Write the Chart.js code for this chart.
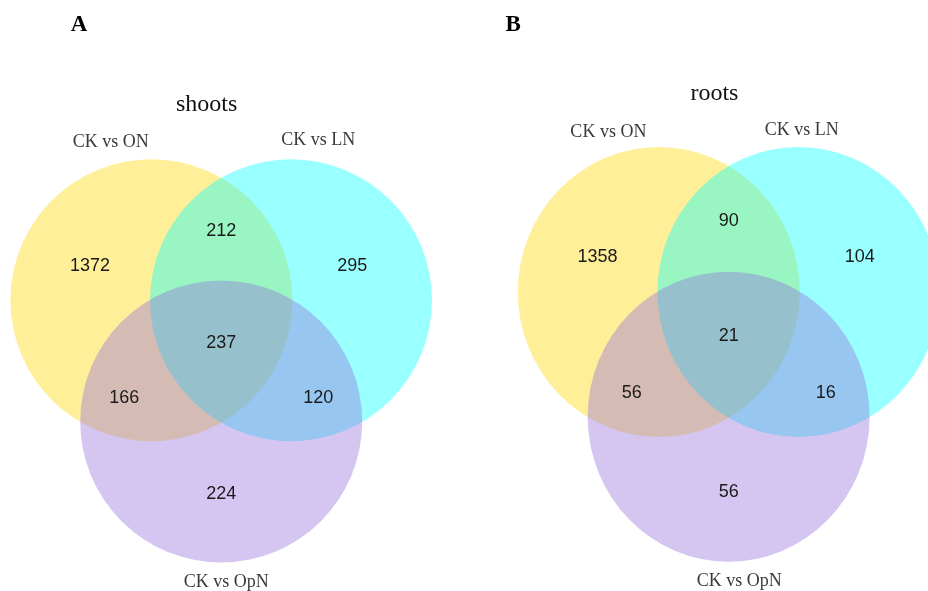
<!DOCTYPE html>
<html>
<head>
<meta charset="utf-8">
<script src="https://cdn.jsdelivr.net/npm/chart.js@4/dist/chart.umd.min.js"></script>
<style>
  html, body { margin: 0; padding: 0; background: #fff; }
  #wrap { position: relative; width: 928px; height: 591px; overflow: hidden; }
  canvas { position: absolute; top: 0; }
  #cA { left: 0; }
  #cB { left: 464px; }
</style>
</head>
<body>
<div id="wrap">
  <canvas id="cA" width="464" height="591"></canvas>
  <canvas id="cB" width="464" height="591"></canvas>
</div>
<script>
// ---- data ----
const setNames = ['CK vs ON', 'CK vs LN', 'CK vs OpN'];
const regionKeys = ['ON only', 'ON & LN', 'LN only', 'ON & LN & OpN', 'ON & OpN', 'LN & OpN', 'OpN only'];
const shootsCounts = [1372, 212, 295, 237, 166, 120, 224];
const rootsCounts = [1358, 90, 104, 21, 56, 16, 56];
const panelLetters = ['A', 'B'];
const panelTitles = ['shoots', 'roots'];

// ---- layout (Venn units, circle radius = 1) ----
const circleCenters = [[-0.495, 0], [0.495, 0], [0, -0.86]];
const regionAnchors = [[-0.93, 0.25], [0, 0.5], [0.93, 0.25], [0, -0.295], [-0.688, -0.685], [0.688, -0.685], [0, -1.366]];
const circleColors = ['rgba(255,215,0,0.4)', 'rgba(0,255,255,0.4)', 'rgba(147,112,219,0.4)'];

const panels = [
  {
    canvas: 'cA', letter: panelLetters[0], title: panelTitles[0], counts: shootsCounts,
    x: [-1.569, 1.722], y: [-2.062, 2.130],
    letterPos: [-1.009, 1.912], titlePos: [-0.103, 1.343],
    namePos: [[-0.783, 1.089], [0.688, 1.099], [0.035, -2.031]]
  },
  {
    canvas: 'cB', letter: panelLetters[1], title: panelTitles[1], counts: rootsCounts,
    x: [-1.877, 1.414], y: [-2.062, 2.014],
    letterPos: [-1.529, 1.802], titlePos: [-0.101, 1.324],
    namePos: [[-0.853, 1.071], [0.518, 1.083], [0.075, -2.028]]
  }
];

const vennPlugin = {
  id: 'venn',
  beforeDatasetsDraw(chart) {
    const { ctx, scales: { x, y } } = chart;
    const rx = Math.abs(x.getPixelForValue(1) - x.getPixelForValue(0));
    const ry = Math.abs(y.getPixelForValue(1) - y.getPixelForValue(0));
    const meta = chart.getDatasetMeta(0);
    ctx.save();
    meta.data.forEach((pt, i) => {
      ctx.beginPath();
      ctx.ellipse(pt.x, pt.y, rx, ry, 0, 0, Math.PI * 2);
      ctx.fillStyle = circleColors[i];
      ctx.fill();
    });
    ctx.restore();
  },
  afterDatasetsDraw(chart) {
    const { ctx, scales: { x, y } } = chart;
    const p = chart.options.plugins.venn;
    ctx.save();
    ctx.textAlign = 'center';
    ctx.textBaseline = 'alphabetic';
    // counts
    const meta = chart.getDatasetMeta(1);
    ctx.font = '18px "Liberation Sans", Arial, sans-serif';
    ctx.fillStyle = '#1a1a1a';
    meta.data.forEach((pt, i) => {
      ctx.fillText(String(p.counts[i]), pt.x, pt.y + 0.358 * 18);
    });
    // set names
    ctx.font = '18px "Liberation Serif", "Times New Roman", serif';
    ctx.fillStyle = '#3a3a3a';
    setNames.forEach((n, i) => {
      ctx.fillText(n, x.getPixelForValue(p.namePos[i][0]), y.getPixelForValue(p.namePos[i][1]));
    });
    // title
    ctx.font = '24px "Liberation Serif", "Times New Roman", serif';
    ctx.fillStyle = '#111';
    ctx.fillText(p.title, x.getPixelForValue(p.titlePos[0]), y.getPixelForValue(p.titlePos[1]));
    // panel letter
    ctx.font = 'bold 23px "Liberation Serif", "Times New Roman", serif';
    ctx.fillStyle = '#000';
    ctx.fillText(p.letter, x.getPixelForValue(p.letterPos[0]), y.getPixelForValue(p.letterPos[1]));
    ctx.restore();
  }
};

panels.forEach(pn => {
  new Chart(document.getElementById(pn.canvas), {
    type: 'scatter',
    data: {
      datasets: [
        {
          label: 'sets',
          data: circleCenters.map((c, i) => ({ x: c[0], y: c[1], name: setNames[i] })),
          pointRadius: 0, pointHoverRadius: 0
        },
        {
          label: 'regions',
          data: regionAnchors.map((a, i) => ({ x: a[0], y: a[1], region: regionKeys[i], v: pn.counts[i] })),
          pointRadius: 0, pointHoverRadius: 0
        }
      ]
    },
    options: {
      responsive: false,
      animation: false,
      events: [],
      layout: { padding: 0 },
      scales: {
        x: { type: 'linear', min: pn.x[0], max: pn.x[1], display: false },
        y: { type: 'linear', min: pn.y[0], max: pn.y[1], display: false }
      },
      plugins: {
        legend: { display: false },
        tooltip: { enabled: false },
        venn: { counts: pn.counts, title: pn.title, letter: pn.letter, titlePos: pn.titlePos, letterPos: pn.letterPos, namePos: pn.namePos }
      }
    },
    plugins: [vennPlugin]
  });
});
</script>
</body>
</html>
